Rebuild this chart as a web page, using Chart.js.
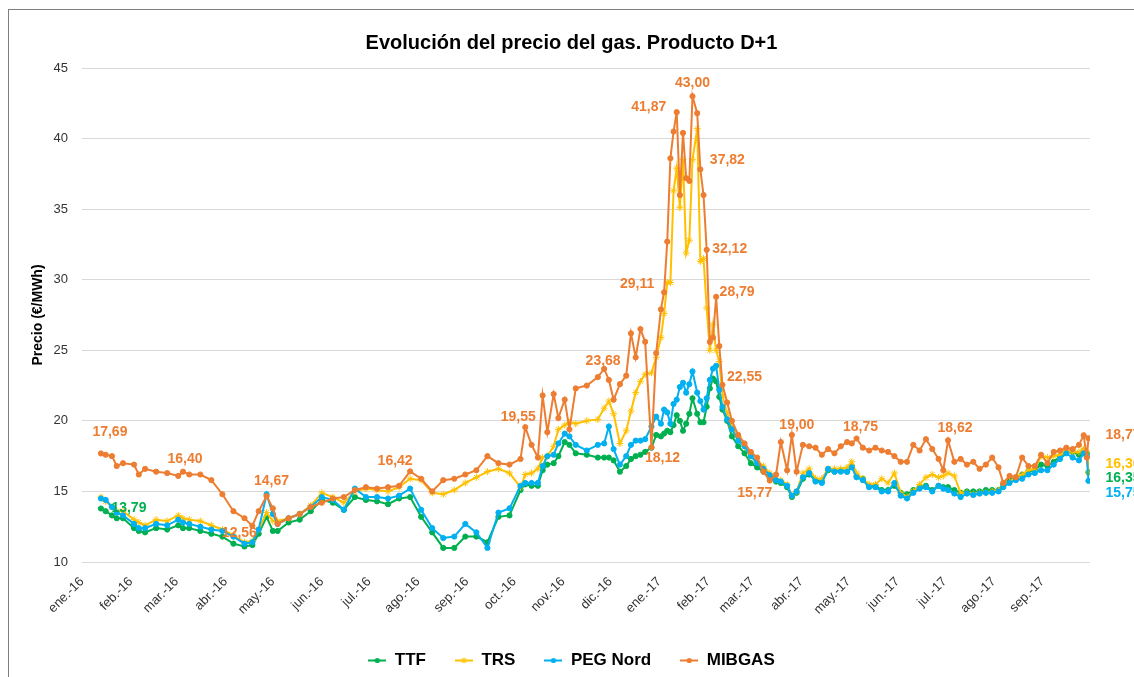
<!DOCTYPE html>
<html>
<head>
<meta charset="utf-8">
<script src="https://cdn.jsdelivr.net/npm/chart.js@4.4.1/dist/chart.umd.min.js"></script>
<style>
  html, body { margin: 0; padding: 0; background: #fff; overflow: hidden; }
  #frame { position: absolute; left: 8px; top: 9px; width: 1125px; height: 669px;
           border-left: 1px solid #7f7f7f; border-top: 1px solid #7f7f7f; }
  canvas { display: block; }
</style>
</head>
<body>
<div id="frame"><canvas id="chartGas" width="1125" height="669"></canvas></div>
<script>
// precios diarios (muestreados) en €/MWh
const dates = [
  '2016-01-13','2016-01-16','2016-01-20','2016-01-23','2016-01-27','2016-02-03','2016-02-06','2016-02-10',
  '2016-02-17','2016-02-24','2016-03-02','2016-03-05','2016-03-09','2016-03-16','2016-03-23','2016-03-30',
  '2016-04-06','2016-04-13','2016-04-18','2016-04-22','2016-04-27','2016-05-01','2016-05-04','2016-05-11',
  '2016-05-18','2016-05-25','2016-06-01','2016-06-08','2016-06-15','2016-06-22','2016-06-29','2016-07-06',
  '2016-07-13','2016-07-20','2016-07-27','2016-08-03','2016-08-10','2016-08-17','2016-08-24','2016-08-31',
  '2016-09-07','2016-09-14','2016-09-21','2016-09-28','2016-10-05','2016-10-08','2016-10-12','2016-10-16',
  '2016-10-19','2016-10-22','2016-10-26','2016-10-29','2016-11-02','2016-11-05','2016-11-09','2016-11-16',
  '2016-11-23','2016-11-27','2016-11-30','2016-12-03','2016-12-07','2016-12-11','2016-12-14','2016-12-17',
  '2016-12-20','2016-12-23','2016-12-27','2016-12-30','2017-01-02','2017-01-04','2017-01-06','2017-01-08',
  '2017-01-10','2017-01-12','2017-01-14','2017-01-16','2017-01-18','2017-01-20','2017-01-22','2017-01-25',
  '2017-01-27','2017-01-29','2017-01-31','2017-02-02','2017-02-04','2017-02-06','2017-02-08','2017-02-10',
  '2017-02-13','2017-02-16','2017-02-20','2017-02-24','2017-02-28','2017-03-04','2017-03-08','2017-03-12',
  '2017-03-16','2017-03-19','2017-03-23','2017-03-26','2017-03-29','2017-04-02','2017-04-06','2017-04-10',
  '2017-04-14','2017-04-18','2017-04-22','2017-04-26','2017-04-30','2017-05-03','2017-05-06','2017-05-10',
  '2017-05-14','2017-05-18','2017-05-22','2017-05-26','2017-05-30','2017-06-03','2017-06-07','2017-06-11',
  '2017-06-15','2017-06-19','2017-06-23','2017-06-27','2017-06-30','2017-07-03','2017-07-07','2017-07-11',
  '2017-07-15','2017-07-19','2017-07-23','2017-07-27','2017-07-31','2017-08-04','2017-08-07','2017-08-11',
  '2017-08-15','2017-08-19','2017-08-23','2017-08-27','2017-08-31','2017-09-04','2017-09-08','2017-09-12',
  '2017-09-16','2017-09-20','2017-09-24','2017-09-27','2017-09-29','2017-09-30'
];
const ttf = [
  13.79,13.6,13.3,13.1,13.1,12.4,12.2,12.1, 12.4,12.3,12.6,12.4,12.4,12.2,12.0,11.8,
  11.3,11.1,11.2,12.0,13.2,12.2,12.2,12.8, 13.0,13.6,14.4,14.2,13.7,14.6,14.4,14.3,
  14.1,14.5,14.6,13.2,12.1,11.0,11.0,11.8, 11.8,11.4,13.2,13.3,15.1,15.5,15.4,15.4,
  16.5,16.9,17.0,17.5,18.5,18.3,17.7,17.6, 17.4,17.4,17.4,17.2,16.4,16.8,17.3,17.5,
  17.6,17.8,18.1,19.0,18.9,19.1,19.3,19.2, 19.7,20.4,20.0,19.3,19.8,20.5,21.6,20.5,
  19.9,19.9,21.0,22.3,23.0,22.8,21.7,20.8, 20.0,18.9,18.2,17.7,17.0,16.7,16.4,15.9,
  15.7,15.6,15.3,14.6,14.9,15.9,16.2,15.8, 15.7,16.5,16.4,16.5,16.4,16.8,16.1,15.9,
  15.4,15.4,15.1,15.1,15.4,14.9,14.8,15.1, 15.3,15.4,15.1,15.4,15.3,15.3,15.1,14.9,
  15.0,15.0,15.0,15.1,15.1,15.1,15.5,15.8, 16.0,16.2,16.4,16.5,16.9,16.8,17.1,17.5,
  17.8,17.8,17.6,17.9,17.7,16.35
];
const trs = [
  14.6,14.3,13.9,13.6,13.6,13.0,12.8,12.6, 13.0,12.9,13.3,13.1,13.0,12.9,12.6,12.3,
  11.9,11.4,11.5,12.3,13.5,12.9,12.9,13.1, 13.4,14.0,14.9,14.6,14.2,15.0,15.2,15.1,
  15.0,15.3,15.9,15.8,14.9,14.8,15.1,15.6, 16.0,16.4,16.6,16.3,15.3,16.2,16.3,16.6,
  17.4,17.5,18.2,19.4,19.7,19.9,19.8,20.0, 20.1,20.9,21.4,20.5,18.4,19.3,20.7,22.0,
  22.8,23.3,23.4,24.5,25.9,27.6,29.8,29.8, 36.3,37.9,35.1,38.5,31.9,32.8,38.5,40.7,
  31.3,31.5,28.0,25.0,26.8,25.0,24.2,21.8, 20.5,19.6,18.9,18.2,17.5,17.1,16.8,16.3,
  15.9,15.8,15.5,14.7,15.0,16.3,16.6,15.9, 15.9,16.6,16.6,16.6,16.7,17.1,16.3,15.9,
  15.5,15.5,15.9,15.6,16.3,14.9,14.6,15.0, 15.5,16.0,16.2,16.0,16.1,16.3,16.1,14.9,
  14.9,14.8,14.9,14.9,15.0,15.1,15.4,15.7, 16.0,16.2,16.5,16.6,17.5,17.4,17.5,17.6,
  17.9,17.8,17.8,18.0,17.8,16.30
];
const pegNord = [
  14.5,14.4,13.9,13.5,13.3,12.7,12.4,12.4, 12.7,12.6,13.0,12.8,12.7,12.5,12.3,12.2,
  11.8,11.3,11.4,12.3,14.8,13.4,12.7,13.1, 13.4,13.9,14.6,14.4,13.7,15.2,14.6,14.6,
  14.5,14.7,15.2,13.7,12.4,11.7,11.8,12.7, 12.1,11.0,13.5,13.8,15.4,15.6,15.6,15.6,
  16.8,17.5,17.6,18.4,19.1,18.9,18.3,17.9, 18.3,18.4,19.6,18.0,16.9,17.5,18.3,18.6,
  18.6,18.7,19.6,20.3,19.8,20.8,20.6,19.8, 21.2,21.5,22.4,22.7,22.0,22.6,23.5,22.0,
  21.4,20.8,21.6,22.9,23.7,23.9,22.2,21.0, 20.1,19.4,18.6,18.2,17.5,17.0,16.6,16.15,
  15.8,15.7,15.4,14.7,15.0,16.0,16.3,15.7, 15.6,16.6,16.4,16.4,16.4,16.7,16.0,15.8,
  15.3,15.3,15.0,15.0,15.6,14.7,14.5,14.9, 15.2,15.3,15.0,15.4,15.2,15.1,14.85,14.6,
  14.85,14.75,14.85,14.9,14.9,15.0,15.3,15.6, 15.8,15.9,16.2,16.3,16.5,16.5,16.9,17.3,
  17.7,17.4,17.2,17.7,17.5,15.75
];
const mibgas = [
  17.69,17.6,17.5,16.8,17.0,16.9,16.2,16.6, 16.4,16.3,16.1,16.40,16.2,16.2,15.8,14.8,
  13.6,13.1,12.56,13.6,14.67,13.8,12.7,13.1, 13.4,13.9,14.2,14.5,14.6,15.1,15.3,15.2,
  15.3,15.4,16.42,15.9,15.0,15.8,15.9,16.2, 16.5,17.5,17.0,16.9,17.3,19.55,18.3,17.4,
  21.8,19.2,21.9,20.2,21.5,19.4,22.3,22.5, 23.1,23.68,22.9,21.5,22.6,23.2,26.2,24.5,
  26.5,25.6,18.12,24.8,27.9,29.11,32.7,38.6, 40.5,41.87,36.0,40.4,37.2,37.0,43.00,41.8,
  37.82,36.0,32.12,25.6,25.9,28.79,25.3,22.55, 21.3,20.0,19.0,18.4,17.8,17.4,16.4,15.77,
  16.2,18.5,16.5,19.00,16.4,18.3,18.2,18.1, 17.6,18.0,17.7,18.2,18.5,18.4,18.75,18.1,
  17.9,18.1,17.9,17.8,17.5,17.1,17.1,18.3, 17.9,18.7,18.0,17.3,16.5,18.62,17.1,17.3,
  16.9,17.1,16.6,16.9,17.4,16.7,15.6,16.1, 16.0,17.4,16.8,16.8,17.6,17.0,17.8,17.9,
  18.1,18.0,18.3,18.98,17.4,18.77
];

const seriesNames = ['TTF', 'TRS', 'PEG Nord', 'MIBGAS'];
const seriesColors = ['#00B050', '#FFC000', '#00B0F0', '#ED7D31'];

const monthStarts = [
  '2016-01-01','2016-02-01','2016-03-01','2016-04-01','2016-05-01','2016-06-01','2016-07-01',
  '2016-08-01','2016-09-01','2016-10-01','2016-11-01','2016-12-01','2017-01-01','2017-02-01',
  '2017-03-01','2017-04-01','2017-05-01','2017-06-01','2017-07-01','2017-08-01','2017-09-01'
];
const monthLabels = [
  'ene.-16','feb.-16','mar.-16','abr.-16','may.-16','jun.-16','jul.-16',
  'ago.-16','sep.-16','oct.-16','nov.-16','dic.-16','ene.-17','feb.-17',
  'mar.-17','abr.-17','may.-17','jun.-17','jul.-17','ago.-17','sep.-17'
];

// etiquetas de valor: [serie, fecha]
const valueLabels = [
  [3,'2016-01-13'],[3,'2016-03-05'],[3,'2016-04-27'],[3,'2016-04-18'],[3,'2016-07-27'],
  [3,'2016-10-08'],[3,'2016-11-27'],[3,'2016-12-27'],[3,'2017-01-04'],[3,'2017-01-12'],
  [3,'2017-01-22'],[3,'2017-01-27'],[3,'2017-01-31'],[3,'2017-02-06'],[3,'2017-02-10'],
  [3,'2017-03-12'],[3,'2017-03-26'],[3,'2017-05-06'],[3,'2017-07-03'],[3,'2017-09-30'],
  [0,'2016-01-13'],[1,'2017-09-30'],[0,'2017-09-30'],[2,'2017-09-30']
];
const labelShift = [
  [9,-21,'center'],[2,-13,'center'],[5,-15,'center'],[-13,7,'center'],[-15,-10,'center'],
  [-7,-10,'center'],[-1,-8,'center'],[11,11,'center'],[-27,-8,'center'],[-28,-5,'center'],
  [0,-13,'center'],[27,-9,'center'],[23,-1,'center'],[21,-5,'center'],[22,-8,'center'],
  [-15,13,'center'],[5,-10,'center'],[4,-11,'center'],[7,-12,'center'],[17,-3,'left'],
  [28,0,'center'],[17,-9,'left'],[17,6,'left'],[17,12,'left']
];

const seriesValues = [ttf, trs, pegNord, mibgas];

function dayOf(s) {
  const p = s.split('-').map(Number);
  return (Date.UTC(p[0], p[1] - 1, p[2]) - Date.UTC(2016, 0, 1)) / 86400000;
}

function legendMark(color, star) {
  const c = document.createElement('canvas');
  c.width = 18; c.height = 9;
  const g = c.getContext('2d');
  g.strokeStyle = color; g.fillStyle = color; g.lineWidth = 2;
  g.beginPath(); g.moveTo(0, 4.5); g.lineTo(18, 4.5); g.stroke();
  if (star) {
    g.lineWidth = 1;
    g.beginPath();
    g.moveTo(6.5, 2); g.lineTo(11.5, 7); g.moveTo(11.5, 2); g.lineTo(6.5, 7);
    g.moveTo(9, 1.5); g.lineTo(9, 7.5);
    g.stroke();
  } else {
    g.beginPath(); g.arc(9, 4.5, 2.6, 0, Math.PI * 2); g.fill();
  }
  return c;
}

function makeSet(i) {
  const star = i === 1;
  return {
    label: seriesNames[i],
    data: dates.map((d, k) => ({x: dayOf(d), y: seriesValues[i][k]})),
    borderColor: seriesColors[i],
    backgroundColor: seriesColors[i],
    borderWidth: 2,
    pointStyle: star ? 'star' : 'circle',
    pointRadius: star ? 3.5 : 2.6,
    pointBorderWidth: 1,
    pointBackgroundColor: seriesColors[i],
    pointBorderColor: seriesColors[i],
    pointHoverRadius: 0,
    tension: 0,
    order: 3 - i
  };
}

const valueLabelPlugin = {
  id: 'valueLabels',
  afterDraw(chart) {
    const ctx = chart.ctx;
    const xs = chart.scales.x, ys = chart.scales.y;
    ctx.save();
    ctx.font = 'bold 14px "Liberation Sans", Arial, sans-serif';
    ctx.textBaseline = 'middle';
    valueLabels.forEach((lab, n) => {
      const s = lab[0];
      const k = dates.indexOf(lab[1]);
      const v = seriesValues[s][k];
      const sh = labelShift[n];
      ctx.fillStyle = seriesColors[s];
      ctx.textAlign = sh[2];
      ctx.fillText(v.toFixed(2).replace('.', ','),
        xs.getPixelForValue(dayOf(lab[1])) + sh[0], ys.getPixelForValue(v) + sh[1]);
    });
    ctx.restore();
  }
};

Chart.defaults.font.family = '"Liberation Sans", Arial, sans-serif';

const marks = seriesColors.map((c, i) => legendMark(c, i === 1));

const chartGas = new Chart(document.getElementById('chartGas'), {
  type: 'line',
  data: { datasets: [makeSet(0), makeSet(1), makeSet(2), makeSet(3)] },
  options: {
    responsive: false,
    animation: false,
    devicePixelRatio: 1,
    layout: { padding: 0 },
    scales: {
      x: {
        type: 'linear',
        min: 0,
        max: dayOf('2017-10-01'),
        grid: { display: false },
        border: { display: false },
        afterBuildTicks: (s) => { s.ticks = monthStarts.map(m => ({ value: dayOf(m) })); },
        afterFit: (s) => { s.height = 61; },
        ticks: {
          autoSkip: false,
          minRotation: 45,
          maxRotation: 45,
          padding: 4,
          color: '#333',
          font: { size: 13 },
          callback: (v, i) => monthLabels[i]
        }
      },
      y: {
        min: 10,
        max: 45,
        afterFit: (s) => { s.width = 73; },
        grid: { color: '#d9d9d9', drawTicks: false },
        border: { display: false },
        ticks: { stepSize: 5, padding: 14, color: '#333', font: { size: 13 } },
        title: {
          display: true,
          text: 'Precio (€/MWh)',
          color: '#000',
          font: { size: 14, weight: 'bold' },
          padding: { top: 21, bottom: 0 }
        }
      },
      // margen derecho para las etiquetas finales
      yRight: {
        position: 'right',
        min: 10,
        max: 45,
        afterFit: (s) => { s.width = 44; },
        grid: { display: false, drawTicks: false },
        border: { display: false },
        ticks: { display: false }
      }
    },
    plugins: {
      title: {
        display: true,
        text: 'Evolución del precio del gas. Producto D+1',
        color: '#000',
        font: { size: 20, weight: 'bold' },
        padding: { top: 21, bottom: 13 }
      },
      legend: {
        position: 'bottom',
        labels: {
          usePointStyle: true,
          pointStyleWidth: 18,
          padding: 29,
          color: '#000',
          font: { size: 17, weight: 'bold' },
          generateLabels: (chart) => chart.data.datasets.map((ds, i) => ({
            text: ds.label,
            pointStyle: marks[i],
            fillStyle: seriesColors[i],
            strokeStyle: seriesColors[i],
            lineWidth: 0,
            hidden: false,
            datasetIndex: i,
            fontColor: '#000'
          }))
        }
      },
      tooltip: { enabled: false }
    }
  },
  plugins: [valueLabelPlugin]
});
</script>
</body>
</html>
